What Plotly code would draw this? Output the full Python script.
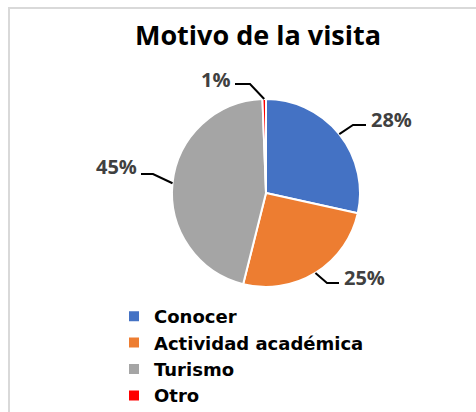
import math
import plotly.graph_objects as go

W, H = 476, 412

# data
labels = ["Conocer", "Actividad académica", "Turismo", "Otro"]
values = [28.4, 25.4, 45.4, 0.6]
colors = ["#4472C4", "#ED7D31", "#A5A5A5", "#FF0000"]

FONT = "Open Sans"

# layout (pixels)
cx, cy, r = 266, 193, 94
# per-slice leader line: elbow, end, label anchor (x, y, xanchor)
leaders = [
    ((353, 125), (366, 125), (369, 120, "left")),
    ((327, 283), (339, 283), (342, 277, "left")),
    ((153, 174), (141, 174), (139, 167, "right")),
    ((250, 84), (235, 84), (232, 79, "right")),
]


def px(x):
    return x / W


def py(y):
    return 1 - y / H


fig = go.Figure()
fig.add_trace(go.Pie(
    labels=labels,
    values=values,
    sort=False,
    direction="clockwise",
    rotation=0,
    textinfo="none",
    hoverinfo="label+percent",
    marker=dict(colors=colors, line=dict(color="white", width=2)),
    domain=dict(x=[px(cx - r), px(cx + r)], y=[py(cy + r), py(cy - r)]),
))

total = sum(values)
shapes = []
annotations = []
cum = 0
for v, (elbow, end, lab) in zip(values, leaders):
    mid = (cum + v / 2) / total * 2 * math.pi
    cum += v
    ex = cx + r * math.sin(mid)
    ey = cy - r * math.cos(mid)
    path = "M {:.4f},{:.4f} L {:.4f},{:.4f} L {:.4f},{:.4f}".format(
        px(ex), py(ey), px(elbow[0]), py(elbow[1]), px(end[0]), py(end[1]))
    shapes.append(dict(type="path", path=path, xref="paper", yref="paper",
                       line=dict(color="black", width=2)))
    annotations.append(dict(
        text="{:.0f}%".format(v / total * 100),
        x=px(lab[0]), y=py(lab[1]), xref="paper", yref="paper",
        xanchor=lab[2], yanchor="middle", showarrow=False,
        font=dict(family=FONT, size=20, color="#404040", weight="bold"),
    ))

# chart frame
shapes.append(dict(type="rect", xref="paper", yref="paper",
                   x0=px(9), y0=py(430), x1=px(490), y1=py(8),
                   line=dict(color="#D9D9D9", width=2)))

fig.update_layout(
    width=W,
    height=H,
    margin=dict(l=0, r=0, t=0, b=0, autoexpand=False),
    paper_bgcolor="white",
    plot_bgcolor="white",
    title=dict(
        text="Motivo de la visita",
        x=px(258), y=py(36), xanchor="center", yanchor="middle",
        xref="paper", yref="paper",
        font=dict(family=FONT, size=27, color="black", weight="bold"),
    ),
    showlegend=True,
    legend=dict(
        x=px(114), y=py(298), xanchor="left", yanchor="top",
        font=dict(family="DejaVu Sans", size=18, color="black", weight="bold"),
        bgcolor="rgba(0,0,0,0)",
    ),
    shapes=shapes,
    annotations=annotations,
)

# drop the default 8px body margin so the figure fills the window
fig.write_html("out.html", config={"displayModeBar": False},
               post_script="document.body.style.margin = '0';")
